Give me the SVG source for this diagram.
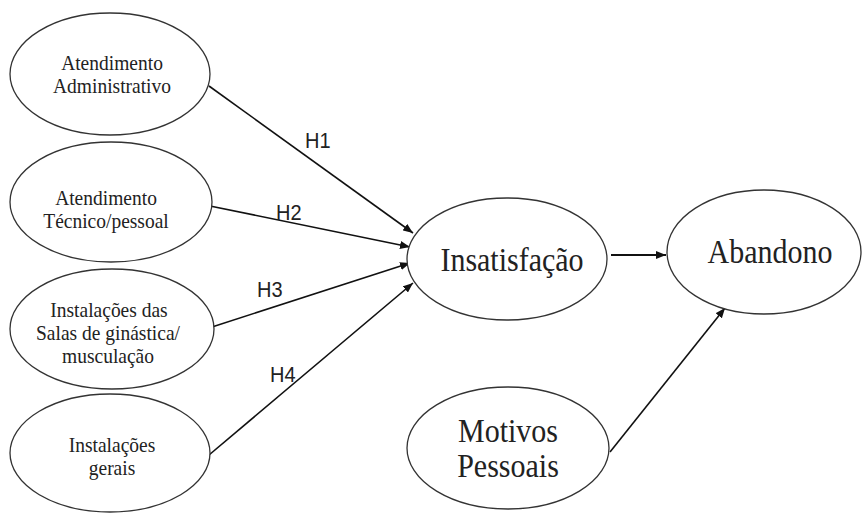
<svg xmlns="http://www.w3.org/2000/svg" width="864" height="513" viewBox="0 0 864 513">
  <defs>
    <marker id="arr" markerUnits="userSpaceOnUse" markerWidth="10" markerHeight="8" refX="10" refY="4" orient="auto">
      <path d="M0,0 L10,4 L0,8 z" fill="#111"/>
    </marker>
    <style>
      .node ellipse { fill: #fff; stroke: #333; stroke-width: 1.3; }
      .sm { font-family: "Liberation Serif", "Times New Roman", serif; font-size: 19.5px; fill: #222; text-anchor: middle; }
      .lg { font-family: "Liberation Serif", "Times New Roman", serif; font-size: 30px; fill: #222; text-anchor: middle; }
      .lbl { font-family: "Liberation Sans", Arial, sans-serif; font-size: 20px; fill: #222; }
      .edge { stroke: #111; stroke-width: 1.6; fill: none; marker-end: url(#arr); }
    </style>
  </defs>
  <rect width="864" height="513" fill="#fff"/>

  <g id="connectors">
    <line class="edge" x1="209" y1="86" x2="413" y2="233"/>
    <line class="edge" x1="210" y1="206" x2="410" y2="247"/>
    <line class="edge" x1="212" y1="327" x2="410" y2="263"/>
    <line class="edge" x1="209" y1="455" x2="413" y2="283"/>
    <line class="edge" x1="611" y1="255" x2="666" y2="255" style="stroke-width:2.2"/>
    <line class="edge" x1="610" y1="452" x2="725" y2="308"/>
    <text class="lbl" transform="translate(305,148) scale(1,1.1)">H1</text>
    <text class="lbl" transform="translate(276,220) scale(1,1.1)">H2</text>
    <text class="lbl" transform="translate(257,297) scale(1,1.1)">H3</text>
    <text class="lbl" transform="translate(270,382) scale(1,1.1)">H4</text>
  </g>

  <g id="n-atend-admin" class="node">
    <ellipse cx="110" cy="74" rx="100" ry="61"/>
    <text class="sm" transform="translate(112,70) scale(1,1.1)">Atendimento</text>
    <text class="sm" transform="translate(112,93) scale(1,1.1)">Administrativo</text>
  </g>
  <g id="n-atend-tecnico" class="node">
    <ellipse cx="111" cy="202" rx="101" ry="60"/>
    <text class="sm" transform="translate(106,205) scale(1,1.1)">Atendimento</text>
    <text class="sm" transform="translate(106,228) scale(1,1.1)">Técnico/pessoal</text>
  </g>
  <g id="n-instal-salas" class="node">
    <ellipse cx="112" cy="329" rx="102" ry="60"/>
    <text class="sm" transform="translate(109,317) scale(1,1.1)">Instalações das</text>
    <text class="sm" transform="translate(108,340) scale(1,1.1)">Salas de ginástica/</text>
    <text class="sm" transform="translate(108,363) scale(1,1.1)">musculação</text>
  </g>
  <g id="n-instal-gerais" class="node">
    <ellipse cx="110" cy="453" rx="100" ry="59"/>
    <text class="sm" transform="translate(112,452) scale(1,1.1)">Instalações</text>
    <text class="sm" transform="translate(112,475) scale(1,1.1)">gerais</text>
  </g>
  <g id="n-insatisfacao" class="node">
    <ellipse cx="507" cy="259" rx="100" ry="61"/>
    <text class="lg" transform="translate(512,271) scale(1,1.1)">Insatisfação</text>
  </g>
  <g id="n-abandono" class="node">
    <ellipse cx="764" cy="252" rx="97" ry="62"/>
    <text class="lg" transform="translate(770,263) scale(1,1.1)">Abandono</text>
  </g>
  <g id="n-motivos" class="node">
    <ellipse cx="508" cy="448" rx="101" ry="61"/>
    <text class="lg" transform="translate(508,442) scale(1,1.1)">Motivos</text>
    <text class="lg" transform="translate(508,477) scale(1,1.1)">Pessoais</text>
  </g>
</svg>
